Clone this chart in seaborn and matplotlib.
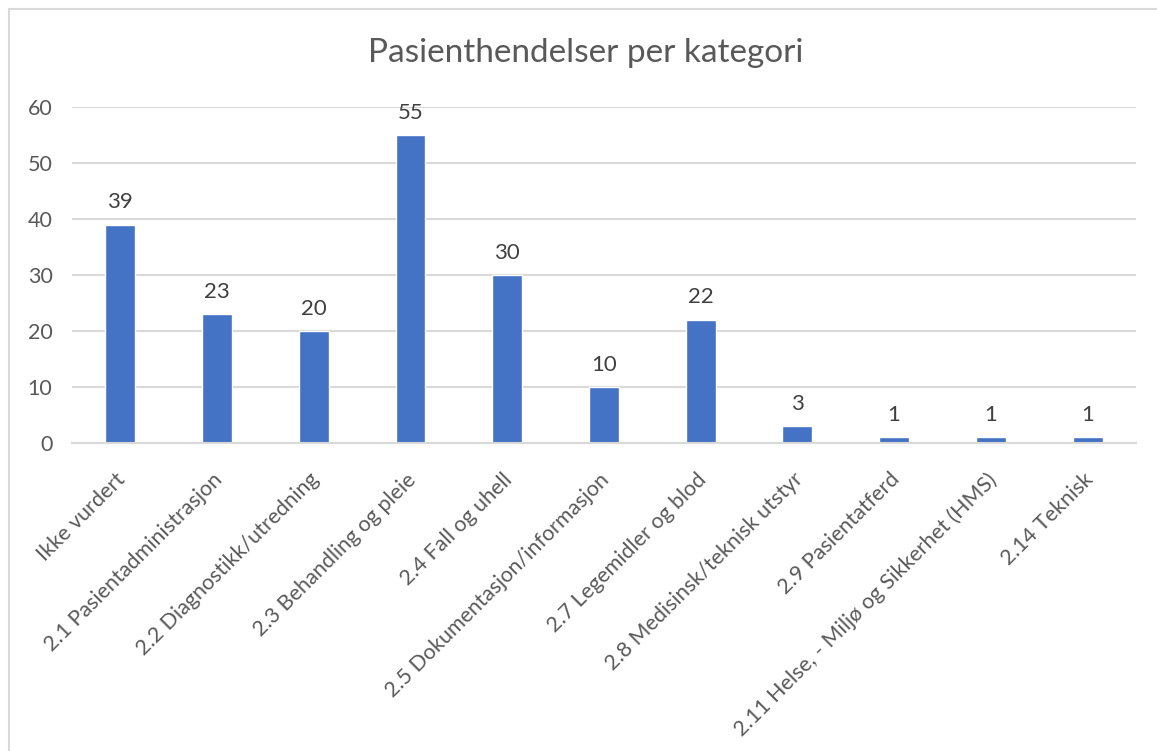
import pandas as pd
import seaborn as sns
import matplotlib.pyplot as plt
import matplotlib.transforms as mtransforms
from matplotlib.patches import Rectangle

categories = [
    "Ikke vurdert",
    "2.1 Pasientadministrasjon",
    "2.2 Diagnostikk/utredning",
    "2.3 Behandling og pleie",
    "2.4 Fall og uhell",
    "2.5 Dokumentasjon/informasjon",
    "2.7 Legemidler og blod",
    "2.8 Medisinsk/teknisk utstyr",
    "2.9 Pasientatferd",
    "2.11 Helse, - Miljø og Sikkerhet (HMS)",
    "2.14 Teknisk",
]
counts = [39, 23, 20, 55, 30, 10, 22, 3, 1, 1, 1]
yticks = [0, 10, 20, 30, 40, 50, 60]

df = pd.DataFrame({"kategori": categories, "antall": counts})

sns.set_theme(style="white")
plt.rcParams["font.family"] = ["Lato", "DejaVu Sans"]

fig = plt.figure(figsize=(11.57, 7.51), dpi=100)
ax = fig.add_axes([0.0622, 0.4101, 0.9196, 0.4474])

# Outer chart border like the Excel chart area
fig.patches.append(Rectangle((8.5 / 1157, -0.1), 1.2, 1 - 8.5 / 751 + 0.1,
                             transform=fig.transFigure, fill=False,
                             edgecolor="#d9d9d9", linewidth=1.5))

sns.barplot(data=df, x="kategori", y="antall", color="#4472C4",
            width=0.31, saturation=1, ax=ax)

ax.set_ylim(0, 60)
ax.set_xlim(-0.5, len(categories) - 0.5)
ax.set_yticks(yticks)
ax.yaxis.grid(True, color="#d9d9d9", linewidth=1.5)
ax.set_axisbelow(True)
for side in ["left", "right", "top"]:
    ax.spines[side].set_visible(False)
ax.spines["bottom"].set_color("#d9d9d9")
ax.spines["bottom"].set_linewidth(1.5)
ax.tick_params(axis="both", length=0, colors="#595959", labelsize=15.5)
ax.tick_params(axis="y", pad=14)
ax.tick_params(axis="x", pad=19)
ax.set_xlabel("")
ax.set_ylabel("")

shift = mtransforms.ScaledTranslation(-5 / 100, 0, fig.dpi_scale_trans)
for lab in ax.get_xticklabels():
    lab.set_rotation(45)
    lab.set_ha("right")
    lab.set_va("top")
    lab.set_rotation_mode("anchor")
    lab.set_transform(lab.get_transform() + shift)

for i, v in enumerate(counts):
    ax.annotate(str(v), (i, v), xytext=(0, 9), textcoords="offset points",
                ha="center", va="bottom", fontsize=16, color="#404040")

fig.text(586 / 1157, 1 - 53 / 751, "Pasienthendelser per kategori",
         ha="center", va="center", fontsize=24, color="#595959")

fig.savefig("out.png", dpi=100)
